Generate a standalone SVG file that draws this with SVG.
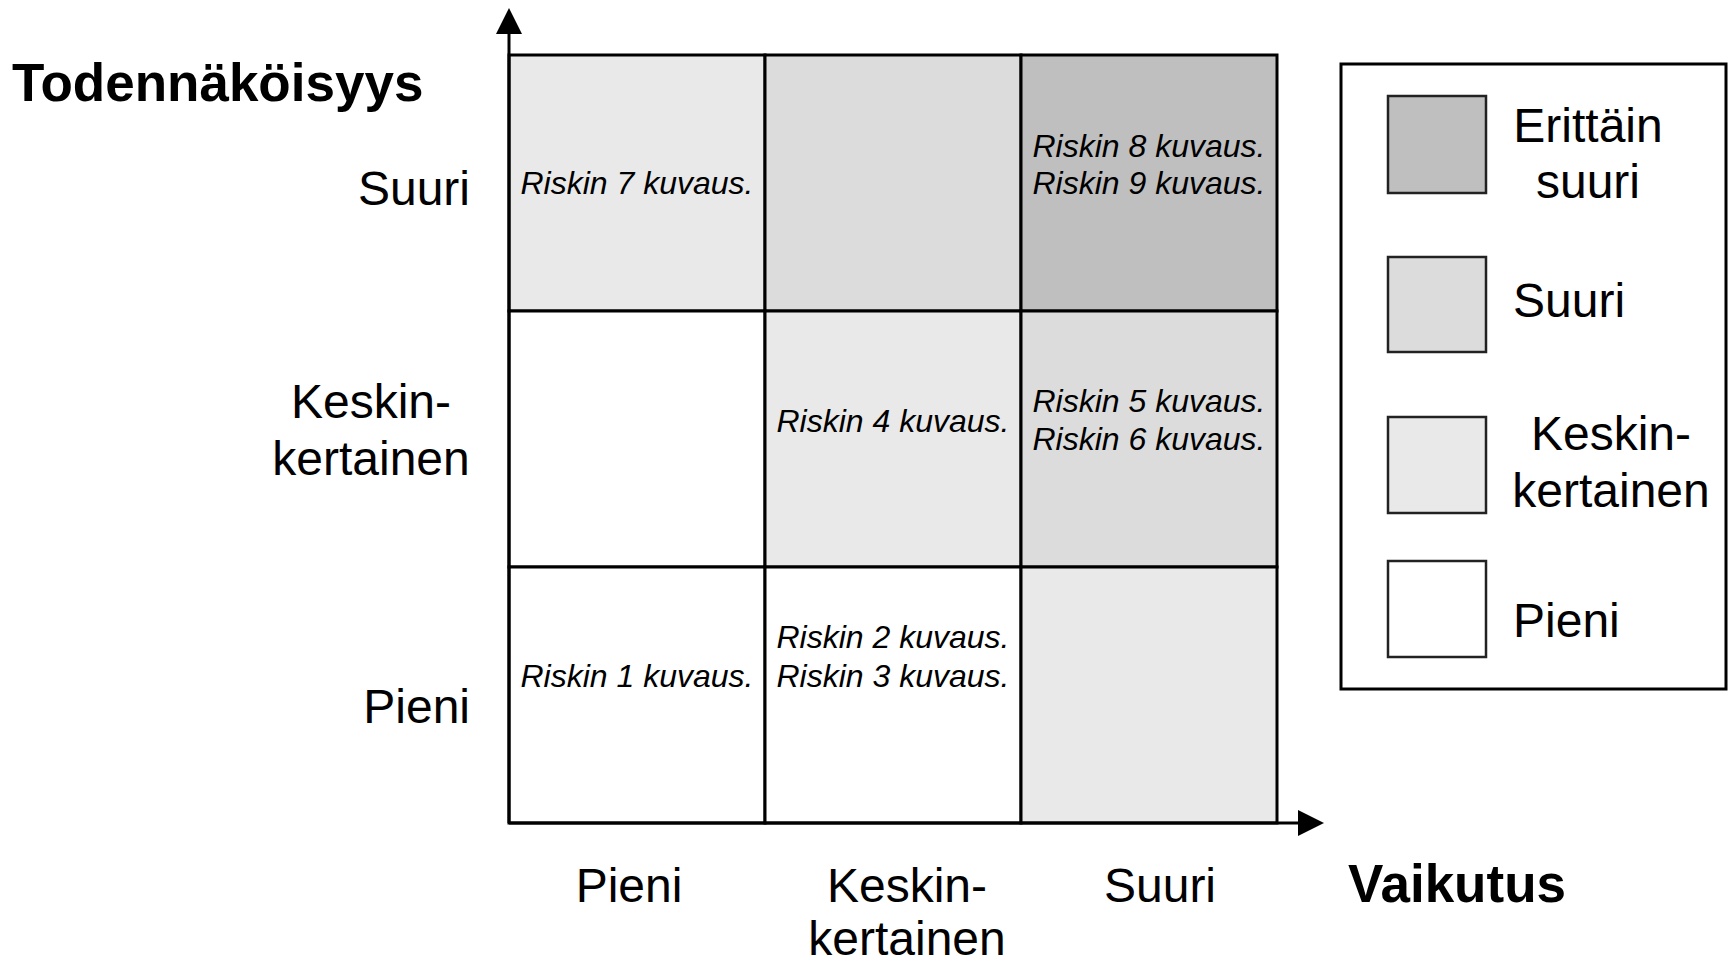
<svg xmlns="http://www.w3.org/2000/svg" width="1731" height="962" viewBox="0 0 1731 962">
<style>
.cell{stroke:#000;stroke-width:3}
.vh{fill:#bfbfbf}.hi{fill:#dcdcdc}.me{fill:#e9e9e9}.lo{fill:#ffffff}
.sw{stroke:#222;stroke-width:2.5}
.r{font-family:"Liberation Sans",Arial,sans-serif;font-style:italic;font-size:32px;fill:#000;text-anchor:middle}
.l{font-family:"Liberation Sans",Arial,sans-serif;font-size:48px;fill:#000}
.t{font-family:"Liberation Sans",Arial,sans-serif;font-size:53px;font-weight:bold;fill:#000}
.axis{stroke:#000;stroke-width:3;fill:none}
</style>
<defs>
<marker id="ah" markerWidth="26" markerHeight="26" refX="0" refY="13" orient="auto" markerUnits="userSpaceOnUse">
<path d="M0,0 L26,13 L0,26 Z" fill="#000"/>
</marker>
</defs>
<rect width="1731" height="962" fill="#fff"/>
<g id="cells">
<g id="c-3-1"><rect class="cell me" x="509" y="55" width="256" height="256"/><text class="r" x="637" y="194">Riskin 7 kuvaus.</text></g>
<g id="c-3-2"><rect class="cell hi" x="765" y="55" width="256" height="256"/></g>
<g id="c-3-3"><rect class="cell vh" x="1021" y="55" width="256" height="256"/><text class="r" x="1149" y="157">Riskin 8 kuvaus.</text><text class="r" x="1149" y="194">Riskin 9 kuvaus.</text></g>
<g id="c-2-1"><rect class="cell lo" x="509" y="311" width="256" height="256"/></g>
<g id="c-2-2"><rect class="cell me" x="765" y="311" width="256" height="256"/><text class="r" x="893" y="432">Riskin 4 kuvaus.</text></g>
<g id="c-2-3"><rect class="cell hi" x="1021" y="311" width="256" height="256"/><text class="r" x="1149" y="412">Riskin 5 kuvaus.</text><text class="r" x="1149" y="450">Riskin 6 kuvaus.</text></g>
<g id="c-1-1"><rect class="cell lo" x="509" y="567" width="256" height="256"/><text class="r" x="637" y="687">Riskin 1 kuvaus.</text></g>
<g id="c-1-2"><rect class="cell lo" x="765" y="567" width="256" height="256"/><text class="r" x="893" y="648">Riskin 2 kuvaus.</text><text class="r" x="893" y="687">Riskin 3 kuvaus.</text></g>
<g id="c-1-3"><rect class="cell me" x="1021" y="567" width="256" height="256"/></g>
</g>
<g id="connectors">
<line class="axis" x1="509" y1="823" x2="509" y2="34" marker-end="url(#ah)"/>
<line class="axis" x1="509" y1="823" x2="1298" y2="823" marker-end="url(#ah)"/>
</g>
<g id="y-labels">
<text class="t" x="12" y="101">Todennäköisyys</text>
<text class="l" x="470" y="205" text-anchor="end">Suuri</text>
<text class="l" x="371" y="418" text-anchor="middle">Keskin-</text>
<text class="l" x="371" y="475" text-anchor="middle">kertainen</text>
<text class="l" x="470" y="723" text-anchor="end">Pieni</text>
</g>
<g id="x-labels">
<text class="l" x="629" y="902" text-anchor="middle">Pieni</text>
<text class="l" x="907" y="902" text-anchor="middle">Keskin-</text>
<text class="l" x="907" y="955" text-anchor="middle">kertainen</text>
<text class="l" x="1160" y="902" text-anchor="middle">Suuri</text>
<text class="t" x="1348" y="902">Vaikutus</text>
</g>
<g id="legend">
<rect x="1341" y="64" width="385" height="625" fill="#fff" stroke="#000" stroke-width="3"/>
<g id="lg-vh"><rect class="sw vh" x="1388" y="96" width="98" height="97"/><text class="l" x="1588" y="142" text-anchor="middle">Erittäin</text><text class="l" x="1588" y="198" text-anchor="middle">suuri</text></g>
<g id="lg-hi"><rect class="sw hi" x="1388" y="257" width="98" height="95"/><text class="l" x="1513" y="317">Suuri</text></g>
<g id="lg-me"><rect class="sw me" x="1388" y="417" width="98" height="96"/><text class="l" x="1611" y="450" text-anchor="middle">Keskin-</text><text class="l" x="1611" y="507" text-anchor="middle">kertainen</text></g>
<g id="lg-lo"><rect class="sw lo" x="1388" y="561" width="98" height="96"/><text class="l" x="1513" y="637">Pieni</text></g>
</g>
</svg>
